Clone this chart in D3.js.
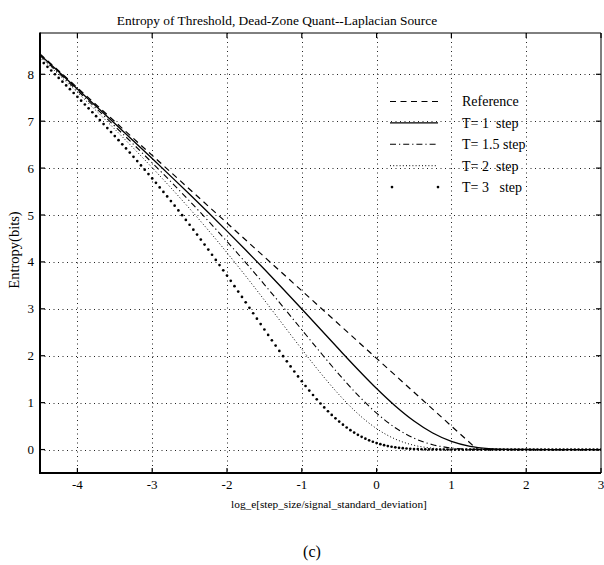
<!DOCTYPE html>
<html><head><meta charset="utf-8">
<script src="https://cdn.jsdelivr.net/npm/d3@7"></script>
<style>
html,body{margin:0;padding:0;background:#fff;}
svg{display:block;font-family:"Liberation Serif","Times New Roman",serif;}
</style>
</head><body>
<svg id="chart" width="604" height="565"></svg>
<script>
// ---- data ----
const title = "Entropy of Threshold, Dead-Zone Quant--Laplacian Source";
const xLabel = "log_e[step_size/signal_standard_deviation]";
const yLabel = "Entropy(bits)";
const caption = "(c)";
const xTicks = [-4, -3, -2, -1, 0, 1, 2, 3];
const yTicks = [0, 1, 2, 3, 4, 5, 6, 7, 8];
const seriesNames = ["Reference", "T= 1  step", "T= 1.5 step", "T= 2  step", "T= 3   step"];

const refX = [-4.5, -3, -1.5, 0, 1.347, 2, 3];
const refY = [8.435, 6.271, 4.107, 1.943, 0, 0, 0];

const curveX = [-4.5, -4.25, -4, -3.75, -3.5, -3.25, -3, -2.75, -2.5, -2.25, -2, -1.75, -1.5, -1.25, -1,
  -0.75, -0.5, -0.25, 0, 0.25, 0.5, 0.75, 1, 1.25, 1.5, 1.75, 2, 2.5, 3];
const t1Y = [8.419, 8.054, 7.688, 7.320, 6.950, 6.578, 6.203, 5.824, 5.441, 5.052, 4.656, 4.253, 3.842, 3.423, 2.996,
  2.564, 2.132, 1.707, 1.300, 0.928, 0.607, 0.352, 0.174, 0.069, 0.021, 0.004, 0.001, 0, 0];
const t15Y = [8.398, 8.026, 7.653, 7.276, 6.894, 6.507, 6.112, 5.710, 5.297, 4.873, 4.435, 3.984, 3.518, 3.040, 2.554,
  2.069, 1.598, 1.160, 0.776, 0.465, 0.242, 0.103, 0.034, 0.008, 0.001, 0, 0, 0, 0];
const t2Y = [8.373, 7.995, 7.613, 7.224, 6.829, 6.424, 6.009, 5.580, 5.136, 4.676, 4.196, 3.699, 3.185, 2.661, 2.139,
  1.633, 1.167, 0.764, 0.446, 0.223, 0.091, 0.029, 0.006, 0.001, 0, 0, 0, 0, 0];

// T = 3 series: sampled every 0.05 from -4.5 to 3
const t3Start = -4.5, t3Step = 0.05;
const t3Y = [
  8.316,8.238,8.159,8.081,8.001,7.922,7.842,7.762,7.682,7.601,
  7.520,7.438,7.356,7.274,7.191,7.107,7.023,6.939,6.854,6.768,
  6.682,6.595,6.507,6.419,6.330,6.240,6.149,6.058,5.966,5.873,
  5.779,5.685,5.589,5.493,5.396,5.298,5.198,5.098,4.997,4.895,
  4.792,4.688,4.583,4.477,4.370,4.262,4.153,4.043,3.933,3.821,
  3.709,3.596,3.482,3.368,3.253,3.138,3.022,2.906,2.790,2.675,
  2.559,2.444,2.329,2.216,2.103,1.991,1.880,1.771,1.664,1.559,
  1.456,1.355,1.258,1.163,1.071,0.982,0.897,0.816,0.739,0.665,
  0.596,0.531,0.470,0.414,0.362,0.314,0.271,0.232,0.197,0.166,
  0.138,0.114,0.094,0.075,0.060,0.048,0.037,0.029,0.022,0.016,
  0.012,0.009,0.006,0.004,0.003,0.002,0.0015,0.001,0.0007,0.0004,
  0.0002,0,0,0,0,0,0,0,0,0,
  0,0,0,0,0,0,0,0,0,0,
  0,0,0,0,0,0,0,0,0,0,
  0,0,0,0,0,0,0,0,0,0,
  0
];

// ---- layout ----
const L = 40, R = 601, T = 33, B = 473;
const svg = d3.select("#chart");
const x = d3.scaleLinear().domain([-4.5, 3]).range([L, R]);
const y = d3.scaleLinear().domain([-0.5, 8.88]).range([B, T]);

svg.append("defs").append("clipPath").attr("id", "clip")
  .append("rect").attr("x", L).attr("y", T).attr("width", R - L).attr("height", B - T);

// grid
const grid = svg.append("g").attr("stroke", "#222").attr("stroke-width", 1).attr("stroke-dasharray", "1,3.5");
grid.selectAll(".gx").data(xTicks.filter(d => d > -4.5 && d < 3)).join("line")
  .attr("x1", d => Math.round(x(d)) + 0.5).attr("x2", d => Math.round(x(d)) + 0.5)
  .attr("y1", T).attr("y2", B);
grid.selectAll(".gy").data(yTicks).join("line")
  .attr("y1", d => Math.round(y(d)) + 0.5).attr("y2", d => Math.round(y(d)) + 0.5)
  .attr("x1", L).attr("x2", R);

// curves
const plot = svg.append("g").attr("clip-path", "url(#clip)");
const lineGen = d3.line().x(d => x(d[0])).y(d => y(d[1])).curve(d3.curveMonotoneX);
const linGen = d3.line().x(d => x(d[0])).y(d => y(d[1]));

plot.append("path").datum(refX.map((v, i) => [v, refY[i]]))
  .attr("d", linGen).attr("fill", "none").attr("stroke", "#000")
  .attr("stroke-width", 1.2).attr("stroke-dasharray", "6,4.5");
plot.append("path").datum(curveX.map((v, i) => [v, t1Y[i]]))
  .attr("d", lineGen).attr("fill", "none").attr("stroke", "#000").attr("stroke-width", 1.3);
plot.append("path").datum(curveX.map((v, i) => [v, t15Y[i]]))
  .attr("d", lineGen).attr("fill", "none").attr("stroke", "#000")
  .attr("stroke-width", 1.1).attr("stroke-dasharray", "6,3,1.2,3");
plot.append("path").datum(curveX.map((v, i) => [v, t2Y[i]]))
  .attr("d", lineGen).attr("fill", "none").attr("stroke", "#000")
  .attr("stroke-width", 1).attr("stroke-dasharray", "1,2.2");
plot.selectAll(".t3").data(t3Y.map((v, i) => [t3Start + i * t3Step, v])).join("circle")
  .attr("cx", d => x(d[0])).attr("cy", d => y(d[1])).attr("r", 1.35).attr("fill", "#000");

// frame
svg.append("line").attr("x1", L).attr("x2", R).attr("y1", T).attr("y2", T).attr("stroke", "#000").attr("stroke-width", 1);
svg.append("line").attr("x1", R).attr("x2", R).attr("y1", T).attr("y2", B).attr("stroke", "#000").attr("stroke-width", 1);
svg.append("line").attr("x1", L).attr("x2", L).attr("y1", T - 0.5).attr("y2", B + 1).attr("stroke", "#000").attr("stroke-width", 2);
svg.append("line").attr("x1", L - 1).attr("x2", R).attr("y1", B).attr("y2", B).attr("stroke", "#000").attr("stroke-width", 2);

// ticks (inward, all sides)
const tk = 5;
const ticks = svg.append("g").attr("stroke", "#000").attr("stroke-width", 1.2);
xTicks.forEach(d => {
  ticks.append("line").attr("x1", x(d)).attr("x2", x(d)).attr("y1", B).attr("y2", B - tk);
  ticks.append("line").attr("x1", x(d)).attr("x2", x(d)).attr("y1", T).attr("y2", T + tk);
});
yTicks.forEach(d => {
  ticks.append("line").attr("x1", L).attr("x2", L + tk).attr("y1", y(d)).attr("y2", y(d));
  ticks.append("line").attr("x1", R).attr("x2", R - tk).attr("y1", y(d)).attr("y2", y(d));
});

// tick labels
svg.append("g").selectAll("text").data(xTicks).join("text")
  .attr("x", d => x(d)).attr("y", 489).attr("text-anchor", "middle")
  .attr("font-size", 13).text(d => d);
svg.append("g").selectAll("text").data(yTicks).join("text")
  .attr("x", 34).attr("y", d => y(d) + 4.5).attr("text-anchor", "end")
  .attr("font-size", 13).text(d => d);

// titles
svg.append("text").attr("x", 277).attr("y", 25).attr("text-anchor", "middle")
  .attr("font-size", 13.4).text(title);
svg.append("text").attr("x", 329).attr("y", 508).attr("text-anchor", "middle")
  .attr("font-size", 11.3).text(xLabel);
svg.append("text").attr("transform", "translate(19,250) rotate(-90)").attr("text-anchor", "middle")
  .attr("font-size", 14.5).text(yLabel);
svg.append("text").attr("x", 312).attr("y", 557).attr("text-anchor", "middle")
  .attr("font-size", 16).text(caption);

// legend
const lx1 = 390, lx2 = 438, ltx = 462, ly0 = 101.5, ldy = 21.4;
const leg = svg.append("g");
const styles = [
  {w: 1.2, dash: "6,4.5"},
  {w: 1.3, dash: null},
  {w: 1.1, dash: "6,3,1.2,3"},
  {w: 1, dash: "1,2.2"},
  null
];
seriesNames.forEach((name, i) => {
  const yy = ly0 + i * ldy;
  const st = styles[i];
  if (st) {
    leg.append("line").attr("x1", lx1).attr("x2", lx2).attr("y1", yy).attr("y2", yy)
      .attr("stroke", "#000").attr("stroke-width", st.w).attr("stroke-dasharray", st.dash);
  } else {
    [lx1 + 2, lx2].forEach(cx => leg.append("circle").attr("cx", cx).attr("cy", yy).attr("r", 1.35).attr("fill", "#000"));
  }
  leg.append("text").attr("x", ltx).attr("y", yy + 4.8).attr("font-size", 14)
    .style("white-space", "pre").text(name);
});
</script>
</body></html>
